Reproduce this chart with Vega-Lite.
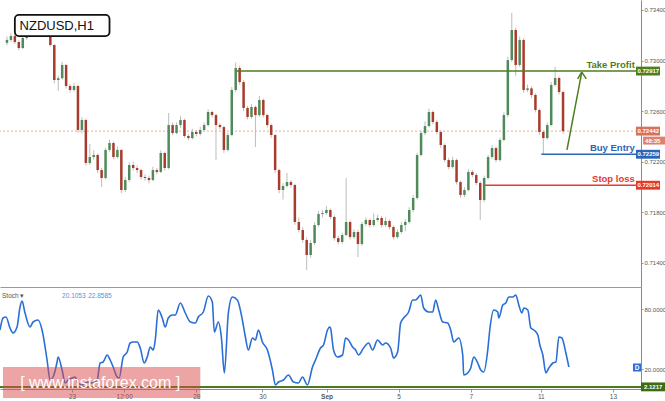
{
"$schema": "https://vega.github.io/schema/vega-lite/v6.json",
"padding": {"left": -4, "top": 0, "right": 0, "bottom": 0},
"background": "white",
"spacing": 0,
"config": {"view": {"stroke": null}, "font": "Liberation Sans", "axis": {"labelFont": "Liberation Sans", "labelFontSize": 6, "labelColor": "#555555", "domainColor": "#9a9a9a", "tickColor": "#9a9a9a", "grid": false, "labelOverlap": false}},
"resolve": {"scale": {"x": "independent", "y": "independent"}},
"datasets": {
"candles": [
{"t":0,"o":0.7314,"h":0.7319,"l":0.7312,"c":0.73163},
{"t":1,"o":0.73163,"h":0.73215,"l":0.7315,"c":0.73194},
{"t":2,"o":0.73194,"h":0.7321,"l":0.7313,"c":0.73147},
{"t":3,"o":0.73147,"h":0.7316,"l":0.7308,"c":0.73099},
{"t":4,"o":0.73099,"h":0.73195,"l":0.7309,"c":0.73178},
{"t":5,"o":0.73178,"h":0.7324,"l":0.73165,"c":0.73218},
{"t":6,"o":0.73218,"h":0.73265,"l":0.732,"c":0.73242},
{"t":7,"o":0.73242,"h":0.73285,"l":0.7323,"c":0.73258},
{"t":8,"o":0.73258,"h":0.7327,"l":0.7321,"c":0.73226},
{"t":9,"o":0.73226,"h":0.7326,"l":0.73215,"c":0.73242},
{"t":10,"o":0.73242,"h":0.73255,"l":0.732,"c":0.73218},
{"t":11,"o":0.73218,"h":0.7323,"l":0.7311,"c":0.73123},
{"t":12,"o":0.73123,"h":0.7313,"l":0.7282,"c":0.72846},
{"t":13,"o":0.72846,"h":0.7288,"l":0.7276,"c":0.7286},
{"t":14,"o":0.7286,"h":0.7299,"l":0.7285,"c":0.72965},
{"t":15,"o":0.72965,"h":0.72975,"l":0.7278,"c":0.72799},
{"t":16,"o":0.72799,"h":0.72815,"l":0.72745,"c":0.72767},
{"t":17,"o":0.72767,"h":0.72825,"l":0.72755,"c":0.72799},
{"t":18,"o":0.72799,"h":0.7281,"l":0.7243,"c":0.72451},
{"t":19,"o":0.72451,"h":0.7255,"l":0.7242,"c":0.7253},
{"t":20,"o":0.7253,"h":0.7254,"l":0.7217,"c":0.7219},
{"t":21,"o":0.7219,"h":0.7234,"l":0.72175,"c":0.72237},
{"t":22,"o":0.72237,"h":0.7229,"l":0.72215,"c":0.72253},
{"t":23,"o":0.72253,"h":0.72265,"l":0.7211,"c":0.72134},
{"t":24,"o":0.72134,"h":0.7215,"l":0.72,"c":0.72071},
{"t":25,"o":0.72071,"h":0.7231,"l":0.7206,"c":0.72293},
{"t":26,"o":0.72293,"h":0.72375,"l":0.7228,"c":0.72348},
{"t":27,"o":0.72348,"h":0.7236,"l":0.7222,"c":0.72237},
{"t":28,"o":0.72237,"h":0.7232,"l":0.72225,"c":0.72293},
{"t":29,"o":0.72293,"h":0.723,"l":0.7195,"c":0.71976},
{"t":30,"o":0.71976,"h":0.7208,"l":0.7196,"c":0.72055},
{"t":31,"o":0.72055,"h":0.72195,"l":0.7204,"c":0.72174},
{"t":32,"o":0.72174,"h":0.722,"l":0.7213,"c":0.7215},
{"t":33,"o":0.7215,"h":0.7217,"l":0.7211,"c":0.72134},
{"t":34,"o":0.72134,"h":0.72145,"l":0.7206,"c":0.72079},
{"t":35,"o":0.72079,"h":0.721,"l":0.7205,"c":0.72071},
{"t":36,"o":0.72071,"h":0.7209,"l":0.7203,"c":0.72055},
{"t":37,"o":0.72055,"h":0.7216,"l":0.72045,"c":0.72134},
{"t":38,"o":0.72134,"h":0.7215,"l":0.721,"c":0.72119},
{"t":39,"o":0.72119,"h":0.7229,"l":0.7211,"c":0.72269},
{"t":40,"o":0.72269,"h":0.7228,"l":0.7213,"c":0.7215},
{"t":41,"o":0.7215,"h":0.72585,"l":0.7214,"c":0.7249},
{"t":42,"o":0.7249,"h":0.7251,"l":0.7241,"c":0.72427},
{"t":43,"o":0.72427,"h":0.7251,"l":0.72415,"c":0.7249},
{"t":44,"o":0.7249,"h":0.7256,"l":0.7247,"c":0.7253},
{"t":45,"o":0.7253,"h":0.7254,"l":0.7239,"c":0.72403},
{"t":46,"o":0.72403,"h":0.7242,"l":0.7237,"c":0.72387},
{"t":47,"o":0.72387,"h":0.7246,"l":0.72375,"c":0.72435},
{"t":48,"o":0.72435,"h":0.7245,"l":0.724,"c":0.72419},
{"t":49,"o":0.72419,"h":0.72475,"l":0.72405,"c":0.72451},
{"t":50,"o":0.72451,"h":0.7251,"l":0.7244,"c":0.7249},
{"t":51,"o":0.7249,"h":0.72615,"l":0.7248,"c":0.72593},
{"t":52,"o":0.72593,"h":0.72605,"l":0.7255,"c":0.72569},
{"t":53,"o":0.72569,"h":0.7258,"l":0.72213,"c":0.7249},
{"t":54,"o":0.7249,"h":0.72505,"l":0.72455,"c":0.72474},
{"t":55,"o":0.72474,"h":0.72485,"l":0.7227,"c":0.72293},
{"t":56,"o":0.72293,"h":0.7243,"l":0.7228,"c":0.72411},
{"t":57,"o":0.72411,"h":0.7279,"l":0.724,"c":0.72767},
{"t":58,"o":0.72767,"h":0.72985,"l":0.7275,"c":0.72941},
{"t":59,"o":0.72941,"h":0.7296,"l":0.7281,"c":0.7283},
{"t":60,"o":0.7283,"h":0.72845,"l":0.726,"c":0.72625},
{"t":61,"o":0.72625,"h":0.7264,"l":0.72535,"c":0.72554},
{"t":62,"o":0.72554,"h":0.72655,"l":0.7254,"c":0.72633},
{"t":63,"o":0.72633,"h":0.72645,"l":0.72316,"c":0.72569},
{"t":64,"o":0.72569,"h":0.7272,"l":0.72555,"c":0.72688},
{"t":65,"o":0.72688,"h":0.727,"l":0.7255,"c":0.72569},
{"t":66,"o":0.72569,"h":0.7258,"l":0.7247,"c":0.7249},
{"t":67,"o":0.7249,"h":0.725,"l":0.7239,"c":0.72411},
{"t":68,"o":0.72411,"h":0.7242,"l":0.7211,"c":0.72134},
{"t":69,"o":0.72134,"h":0.72145,"l":0.7195,"c":0.71976},
{"t":70,"o":0.71976,"h":0.7203,"l":0.719,"c":0.72008},
{"t":71,"o":0.72008,"h":0.7211,"l":0.71995,"c":0.72039},
{"t":72,"o":0.72039,"h":0.72055,"l":0.71995,"c":0.72016},
{"t":73,"o":0.72016,"h":0.72025,"l":0.717,"c":0.71723},
{"t":74,"o":0.71723,"h":0.7176,"l":0.7164,"c":0.7166},
{"t":75,"o":0.7166,"h":0.7168,"l":0.7156,"c":0.71581},
{"t":76,"o":0.71581,"h":0.716,"l":0.71343,"c":0.71462},
{"t":77,"o":0.71462,"h":0.7158,"l":0.7144,"c":0.71557},
{"t":78,"o":0.71557,"h":0.7172,"l":0.7154,"c":0.71699},
{"t":79,"o":0.71699,"h":0.7181,"l":0.71685,"c":0.71786},
{"t":80,"o":0.71786,"h":0.7182,"l":0.7176,"c":0.71794},
{"t":81,"o":0.71794,"h":0.7185,"l":0.7178,"c":0.71818},
{"t":82,"o":0.71818,"h":0.7183,"l":0.71745,"c":0.71763},
{"t":83,"o":0.71763,"h":0.71775,"l":0.71575,"c":0.71596},
{"t":84,"o":0.71596,"h":0.71615,"l":0.71545,"c":0.71565},
{"t":85,"o":0.71565,"h":0.7164,"l":0.7155,"c":0.7162},
{"t":86,"o":0.7162,"h":0.72071,"l":0.7161,"c":0.71723},
{"t":87,"o":0.71723,"h":0.71735,"l":0.71585,"c":0.71604},
{"t":88,"o":0.71604,"h":0.71665,"l":0.7159,"c":0.71644},
{"t":89,"o":0.71644,"h":0.7166,"l":0.71446,"c":0.71549},
{"t":90,"o":0.71549,"h":0.71725,"l":0.71535,"c":0.71707},
{"t":91,"o":0.71707,"h":0.7176,"l":0.7169,"c":0.71739},
{"t":92,"o":0.71739,"h":0.7175,"l":0.7168,"c":0.71699},
{"t":93,"o":0.71699,"h":0.7179,"l":0.71685,"c":0.71739},
{"t":94,"o":0.71739,"h":0.7178,"l":0.71725,"c":0.71755},
{"t":95,"o":0.71755,"h":0.7177,"l":0.7168,"c":0.71699},
{"t":96,"o":0.71699,"h":0.7176,"l":0.71685,"c":0.71731},
{"t":97,"o":0.71731,"h":0.71745,"l":0.71665,"c":0.71683},
{"t":98,"o":0.71683,"h":0.71695,"l":0.71585,"c":0.71604},
{"t":99,"o":0.71604,"h":0.71665,"l":0.7159,"c":0.71644},
{"t":100,"o":0.71644,"h":0.7172,"l":0.7163,"c":0.71699},
{"t":101,"o":0.71699,"h":0.71745,"l":0.7165,"c":0.71723},
{"t":102,"o":0.71723,"h":0.7184,"l":0.7171,"c":0.71818},
{"t":103,"o":0.71818,"h":0.71935,"l":0.718,"c":0.71913},
{"t":104,"o":0.71913,"h":0.7227,"l":0.719,"c":0.72253},
{"t":105,"o":0.72253,"h":0.72445,"l":0.7224,"c":0.72427},
{"t":106,"o":0.72427,"h":0.7252,"l":0.7241,"c":0.72482},
{"t":107,"o":0.72482,"h":0.7262,"l":0.7247,"c":0.72593},
{"t":108,"o":0.72593,"h":0.72605,"l":0.72495,"c":0.72514},
{"t":109,"o":0.72514,"h":0.7253,"l":0.72415,"c":0.72435},
{"t":110,"o":0.72435,"h":0.7245,"l":0.7231,"c":0.72332},
{"t":111,"o":0.72332,"h":0.72345,"l":0.72195,"c":0.72213},
{"t":112,"o":0.72213,"h":0.7223,"l":0.7214,"c":0.72158},
{"t":113,"o":0.72158,"h":0.7224,"l":0.72145,"c":0.72213},
{"t":114,"o":0.72213,"h":0.72225,"l":0.7202,"c":0.72039},
{"t":115,"o":0.72039,"h":0.7205,"l":0.71915,"c":0.71937},
{"t":116,"o":0.71937,"h":0.72,"l":0.7192,"c":0.71976},
{"t":117,"o":0.71976,"h":0.7214,"l":0.71965,"c":0.72119},
{"t":118,"o":0.72119,"h":0.72135,"l":0.72075,"c":0.72095},
{"t":119,"o":0.72095,"h":0.7211,"l":0.72015,"c":0.72032},
{"t":120,"o":0.72032,"h":0.72045,"l":0.71739,"c":0.71897},
{"t":121,"o":0.71897,"h":0.7209,"l":0.7188,"c":0.72071},
{"t":122,"o":0.72071,"h":0.72255,"l":0.7206,"c":0.72237},
{"t":123,"o":0.72237,"h":0.7233,"l":0.7222,"c":0.72308},
{"t":124,"o":0.72308,"h":0.7232,"l":0.72195,"c":0.72213},
{"t":125,"o":0.72213,"h":0.7239,"l":0.722,"c":0.72372},
{"t":126,"o":0.72372,"h":0.7259,"l":0.7236,"c":0.72569},
{"t":127,"o":0.72569,"h":0.7303,"l":0.72555,"c":0.73004},
{"t":128,"o":0.73004,"h":0.73376,"l":0.7299,"c":0.73242},
{"t":129,"o":0.73242,"h":0.7326,"l":0.7288,"c":0.72965},
{"t":130,"o":0.72965,"h":0.7319,"l":0.7295,"c":0.73163},
{"t":131,"o":0.73163,"h":0.73175,"l":0.72745,"c":0.72767},
{"t":132,"o":0.72767,"h":0.7281,"l":0.7275,"c":0.7278},
{"t":133,"o":0.7278,"h":0.72795,"l":0.72705,"c":0.72728},
{"t":134,"o":0.72728,"h":0.7274,"l":0.7259,"c":0.72609},
{"t":135,"o":0.72609,"h":0.7262,"l":0.7241,"c":0.72435},
{"t":136,"o":0.72435,"h":0.7245,"l":0.72259,"c":0.72387},
{"t":137,"o":0.72387,"h":0.7251,"l":0.72375,"c":0.7249},
{"t":138,"o":0.7249,"h":0.7283,"l":0.7248,"c":0.72807},
{"t":139,"o":0.72807,"h":0.72949,"l":0.72795,"c":0.72862},
{"t":140,"o":0.72862,"h":0.72875,"l":0.7273,"c":0.72751},
{"t":141,"o":0.72751,"h":0.7276,"l":0.7242,"c":0.72442}
],
"stoch": [
{"t":-0.5,"k":59},{"t":0.25,"k":71},{"t":1,"k":72},{"t":2,"k":61},{"t":2.75,"k":56},{"t":3.75,"k":62},{"t":4.5,"k":82},{"t":5,"k":88},{"t":5.75,"k":76},{"t":7,"k":62},{"t":7.75,"k":67},{"t":9,"k":69},{"t":10,"k":59},{"t":11.25,"k":29},{"t":12,"k":9},{"t":12.75,"k":12},{"t":13.75,"k":27},{"t":14,"k":32},{"t":15,"k":19},{"t":15.75,"k":6},{"t":16.5,"k":9},{"t":17.5,"k":11},{"t":18.25,"k":12},{"t":19,"k":6},{"t":20,"k":4},{"t":21.25,"k":7},{"t":22.5,"k":6},{"t":23.75,"k":9},{"t":24.5,"k":26},{"t":25.25,"k":27},{"t":26.25,"k":34},{"t":27,"k":29},{"t":27.75,"k":22},{"t":28.75,"k":12},{"t":29.25,"k":11},{"t":30.25,"k":32},{"t":31.25,"k":37},{"t":32,"k":46},{"t":32.75,"k":47},{"t":33.75,"k":47},{"t":34.5,"k":41},{"t":35.5,"k":26},{"t":36.25,"k":32},{"t":37,"k":42},{"t":37.75,"k":39},{"t":38.25,"k":49},{"t":39,"k":79},{"t":40,"k":71},{"t":40.75,"k":62},{"t":41.5,"k":71},{"t":42.5,"k":74},{"t":43.25,"k":74},{"t":44.5,"k":86},{"t":45.75,"k":76},{"t":47,"k":67},{"t":48.25,"k":66},{"t":49,"k":72},{"t":50.25,"k":77},{"t":51.5,"k":93},{"t":52.5,"k":87},{"t":53,"k":57},{"t":54,"k":67},{"t":54.75,"k":52},{"t":55.5,"k":16},{"t":56.5,"k":76},{"t":57.5,"k":92},{"t":58.75,"k":89},{"t":60,"k":69},{"t":60.75,"k":52},{"t":61.5,"k":39},{"t":62.5,"k":51},{"t":63.25,"k":49},{"t":64,"k":59},{"t":65,"k":47},{"t":66.25,"k":39},{"t":67.5,"k":19},{"t":68.25,"k":4},{"t":69,"k":7},{"t":70.25,"k":9},{"t":71.5,"k":14},{"t":72.75,"k":7},{"t":74,"k":6},{"t":75,"k":12},{"t":76.25,"k":4},{"t":77.5,"k":22},{"t":78.25,"k":29},{"t":79.5,"k":41},{"t":80.25,"k":44},{"t":81.25,"k":59},{"t":81.75,"k":62},{"t":82,"k":61},{"t":82.75,"k":39},{"t":83.75,"k":32},{"t":85,"k":34},{"t":85.75,"k":51},{"t":86.5,"k":49},{"t":87.5,"k":42},{"t":88.25,"k":39},{"t":89,"k":34},{"t":90.25,"k":41},{"t":91.5,"k":46},{"t":92.5,"k":39},{"t":93.75,"k":49},{"t":95,"k":44},{"t":95.75,"k":46},{"t":97,"k":41},{"t":97.75,"k":31},{"t":98.75,"k":37},{"t":99.5,"k":66},{"t":100.25,"k":71},{"t":101.5,"k":77},{"t":102.5,"k":89},{"t":103.25,"k":89},{"t":104.5,"k":94},{"t":105.25,"k":81},{"t":106.5,"k":77},{"t":107.5,"k":77},{"t":108.25,"k":89},{"t":109,"k":79},{"t":110,"k":67},{"t":111.25,"k":66},{"t":112,"k":59},{"t":112.75,"k":47},{"t":114,"k":51},{"t":115,"k":34},{"t":115.25,"k":14},{"t":116.25,"k":16},{"t":117,"k":21},{"t":117.75,"k":32},{"t":118.75,"k":26},{"t":119.5,"k":19},{"t":120.25,"k":17},{"t":121.25,"k":39},{"t":121.75,"k":59},{"t":122.75,"k":79},{"t":123.75,"k":77},{"t":124,"k":71},{"t":125,"k":84},{"t":125.75,"k":86},{"t":126.5,"k":92},{"t":127.5,"k":92},{"t":128.25,"k":94},{"t":129,"k":84},{"t":129.75,"k":76},{"t":130.25,"k":81},{"t":131.25,"k":79},{"t":132,"k":61},{"t":132.75,"k":59},{"t":133.75,"k":54},{"t":134.25,"k":44},{"t":135,"k":34},{"t":135.75,"k":16},{"t":136.5,"k":21},{"t":137.5,"k":26},{"t":138.25,"k":27},{"t":139,"k":52},{"t":139.75,"k":51},{"t":140.75,"k":36},{"t":141.5,"k":22}
],
"levels": [
{"name":"Take Profit","p":0.72917,"from":58.25},
{"name":"Buy Entry","p":0.72259,"from":135.5},
{"name":"Stop loss","p":0.72014,"from":121.25}
],
"current": [{"p":0.72442}],
"timer": [{"p":0.72367,"txt":"48:35"}],
"stochlevel": [{"k":2.1217}]
},
"vconcat": [
{
"width": 641, "height": 287,
"layer": [
{"data": {"name": "candles"}, "mark": {"type": "rule", "color": "#bcbcbc", "strokeWidth": 1},
 "encoding": {"x": {"field": "t", "type": "quantitative", "title": null, "scale": {"domain": [-0.5, 159.5], "nice": false, "zero": false},
   "axis": {"orient": "bottom", "title": null, "labels": false, "ticks": false, "domain": true, "domainColor": "#9a9a9a"}},
  "y": {"field": "l", "type": "quantitative", "title": null, "scale": {"domain": [0.71209, 0.73479], "nice": false, "zero": false},
   "axis": {"orient": "right", "title": null, "values": [0.714, 0.716, 0.718, 0.72, 0.722, 0.724, 0.726, 0.728, 0.73, 0.732, 0.734], "format": ".5f", "tickSize": 2, "labelPadding": 1, "labelOverlap": false, "labelBound": false, "domainColor": "#8a8a8a"}},
  "y2": {"field": "h"}}},
{"data": {"name": "current"}, "mark": {"type": "rule", "color": "#f2a696", "strokeDash": [2, 2], "strokeWidth": 1},
 "encoding": {"y": {"field": "p", "type": "quantitative", "title": null}}},
{"data": {"name": "candles"}, "mark": {"type": "bar", "size": 2.5},
 "encoding": {"x": {"field": "t", "type": "quantitative", "title": null}, "y": {"field": "o", "type": "quantitative", "title": null}, "y2": {"field": "c"},
  "color": {"condition": {"test": "datum.c >= datum.o", "value": "#4f8a5a"}, "value": "#a83b2c"}}},
{"data": {"name": "levels"}, "mark": {"type": "rule", "strokeWidth": 1.6},
 "encoding": {"x": {"field": "from", "type": "quantitative", "title": null}, "x2": {"datum": 159.5}, "y": {"field": "p", "type": "quantitative", "title": null},
  "color": {"field": "name", "type": "nominal", "legend": null, "scale": {"domain": ["Take Profit", "Buy Entry", "Stop loss"], "range": ["#4e7d1f", "#2b65b8", "#e5392e"]}}}},
{"data": {"name": "levels"}, "mark": {"type": "text", "align": "right", "baseline": "alphabetic", "dy": -3, "fontWeight": "bold", "fontSize": 9.5, "font": "Liberation Sans"},
 "encoding": {"x": {"datum": 159.2, "title": null}, "y": {"field": "p", "type": "quantitative", "title": null}, "text": {"field": "name"},
  "color": {"field": "name", "type": "nominal", "legend": null}}},
{"data": {"name": "levels"}, "mark": {"type": "point", "shape": "M0,-0.37L2,-0.37L2,0.37L0,0.37Z", "size": 576, "filled": true, "opacity": 1},
 "encoding": {"x": {"datum": 159.5, "title": null}, "y": {"field": "p", "type": "quantitative", "title": null},
  "color": {"field": "name", "type": "nominal", "legend": null}}},
{"data": {"name": "levels"}, "mark": {"type": "text", "align": "left", "baseline": "middle", "dx": 1.5, "fontSize": 6, "fontWeight": "bold", "color": "white"},
 "encoding": {"x": {"datum": 159.5, "title": null}, "y": {"field": "p", "type": "quantitative", "title": null}, "text": {"field": "p", "type": "quantitative", "format": ".5f"}}},
{"data": {"name": "current"}, "mark": {"type": "point", "shape": "M0,-0.37L2,-0.37L2,0.37L0,0.37Z", "size": 576, "filled": true, "opacity": 1, "color": "#d8715c"},
 "encoding": {"x": {"datum": 159.5, "title": null}, "y": {"field": "p", "type": "quantitative", "title": null}}},
{"data": {"name": "current"}, "mark": {"type": "text", "align": "left", "baseline": "middle", "dx": 1.5, "fontSize": 6, "fontWeight": "bold", "color": "white"},
 "encoding": {"x": {"datum": 159.5, "title": null}, "y": {"field": "p", "type": "quantitative", "title": null}, "text": {"field": "p", "type": "quantitative", "format": ".5f"}}},
{"data": {"name": "timer"}, "mark": {"type": "point", "shape": "M0,-0.33L2,-0.33L2,0.33L0,0.33Z", "size": 576, "filled": true, "opacity": 1, "color": "#dc8270"},
 "encoding": {"x": {"datum": 161.3, "title": null}, "y": {"field": "p", "type": "quantitative", "title": null}}},
{"data": {"name": "timer"}, "mark": {"type": "text", "align": "left", "baseline": "middle", "dx": 2, "fontSize": 6, "fontWeight": "bold", "color": "white"},
 "encoding": {"x": {"datum": 161.3, "title": null}, "y": {"field": "p", "type": "quantitative", "title": null}, "text": {"field": "txt"}}},
{"data": {"values": [{}]}, "mark": {"type": "rule", "color": "#4e7d1f", "strokeWidth": 1.5},
 "encoding": {"x": {"datum": 142, "title": null}, "y": {"datum": 0.72293, "title": null}, "x2": {"datum": 145.75}, "y2": {"datum": 0.72909}}},
{"data": {"values": [{}]}, "mark": {"type": "rule", "color": "#4e7d1f", "strokeWidth": 1.5},
 "encoding": {"x": {"datum": 145.75, "title": null}, "y": {"datum": 0.72909, "title": null}, "x2": {"datum": 144.7}, "y2": {"datum": 0.72855}}},
{"data": {"values": [{}]}, "mark": {"type": "rule", "color": "#4e7d1f", "strokeWidth": 1.5},
 "encoding": {"x": {"datum": 145.75, "title": null}, "y": {"datum": 0.72909, "title": null}, "x2": {"datum": 146.9}, "y2": {"datum": 0.72855}}},
{"data": {"values": [{}]}, "mark": {"type": "rect", "fill": "white", "stroke": "#111111", "strokeWidth": 1.8, "cornerRadius": 4},
 "encoding": {"x": {"datum": 2.0, "title": null}, "x2": {"datum": 26.0}, "y": {"datum": 0.73361, "title": null}, "y2": {"datum": 0.73194}}},
{"data": {"values": [{}]}, "mark": {"type": "text", "align": "left", "baseline": "middle", "fontSize": 13, "color": "#111111", "font": "Liberation Sans"},
 "encoding": {"x": {"datum": 3.2, "title": null}, "y": {"datum": 0.73276, "title": null}, "text": {"value": "NZDUSD,H1"}}}
]
},
{
"width": 641, "height": 102,
"layer": [
{"data": {"name": "stoch"}, "mark": {"type": "line", "color": "#2a6ed6", "strokeWidth": 1.6, "interpolate": "monotone"},
 "encoding": {"x": {"field": "t", "type": "quantitative", "title": null, "scale": {"domain": [-0.5, 159.5], "nice": false, "zero": false},
   "axis": {"orient": "bottom", "title": null, "values": [17.5, 30.5, 48.5, 65, 81, 99, 117, 134.5, 152.5],
    "labelExpr": "datum.value < 20 ? '23' : datum.value < 35 ? '12:00' : datum.value < 50 ? '28' : datum.value < 70 ? '30' : datum.value < 90 ? 'Sep' : datum.value < 110 ? '5' : datum.value < 125 ? '7' : datum.value < 140 ? '11' : '13'",
    "labelFontWeight": {"condition": {"test": "datum.value > 75 && datum.value < 90", "value": "bold"}, "value": "normal"},
    "tickSize": 3, "labelPadding": 1, "labelFontSize": 6.5, "labelOverlap": false, "domainColor": "#8a8a8a"}},
  "y": {"field": "k", "type": "quantitative", "title": null, "scale": {"domain": [0, 102], "nice": false, "zero": false},
   "axis": {"orient": "right", "title": null, "values": [20, 40, 60, 80], "format": ".4f", "tickSize": 2, "labelPadding": 1, "labelOverlap": false, "labelBound": false, "domainColor": "#8a8a8a"}}}},
{"data": {"name": "stochlevel"}, "mark": {"type": "rule", "color": "#4a7a1e", "strokeWidth": 2},
 "encoding": {"y": {"field": "k", "type": "quantitative", "title": null}}},
{"data": {"values": [{}]}, "mark": {"type": "rect", "color": "#d94a4a", "opacity": 0.5},
 "encoding": {"x": {"datum": 0.25, "title": null}, "x2": {"datum": 49.5}, "y": {"datum": 22, "title": null}, "y2": {"datum": -9}}},
{"data": {"values": [{}]}, "mark": {"type": "text", "align": "center", "baseline": "middle", "fontSize": 16, "color": "white", "font": "Liberation Sans"},
 "encoding": {"x": {"datum": 24.5, "title": null}, "y": {"datum": 6, "title": null}, "text": {"value": "[  www.instaforex.com  ]"}}},
{"data": {"values": [{}]}, "mark": {"type": "text", "align": "left", "baseline": "middle", "fontSize": 6.5, "color": "#555555"},
 "encoding": {"x": {"datum": 0, "title": null}, "y": {"datum": 93, "title": null}, "text": {"value": "Stoch ▾"}}},
{"data": {"values": [{}]}, "mark": {"type": "text", "align": "left", "baseline": "middle", "fontSize": 6.5, "color": "#4a94e8"},
 "encoding": {"x": {"datum": 15, "title": null}, "y": {"datum": 93, "title": null}, "text": {"value": "20.1053"}}},
{"data": {"values": [{}]}, "mark": {"type": "text", "align": "left", "baseline": "middle", "fontSize": 6.5, "color": "#4a94e8"},
 "encoding": {"x": {"datum": 21.5, "title": null}, "y": {"datum": 93, "title": null}, "text": {"value": "22.8585"}}},
{"data": {"values": [{}]}, "mark": {"type": "point", "shape": "square", "size": 64, "filled": true, "opacity": 1, "color": "#2a6ed6"},
 "encoding": {"x": {"datum": 158.5, "title": null}, "y": {"datum": 21.5, "title": null}}},
{"data": {"values": [{}]}, "mark": {"type": "text", "align": "center", "baseline": "middle", "fontSize": 6.5, "color": "white", "fontWeight": "bold"},
 "encoding": {"x": {"datum": 158.5, "title": null}, "y": {"datum": 21.5, "title": null}, "text": {"value": "D"}}},
{"data": {"name": "stochlevel"}, "mark": {"type": "point", "shape": "M0,-0.37L2,-0.37L2,0.37L0,0.37Z", "size": 576, "filled": true, "opacity": 1, "color": "#3f6b14"},
 "encoding": {"x": {"datum": 159.5, "title": null}, "y": {"field": "k", "type": "quantitative", "title": null}}},
{"data": {"name": "stochlevel"}, "mark": {"type": "text", "align": "left", "baseline": "middle", "dx": 3, "fontSize": 6, "fontWeight": "bold", "color": "white"},
 "encoding": {"x": {"datum": 159.5, "title": null}, "y": {"field": "k", "type": "quantitative", "title": null}, "text": {"field": "k", "type": "quantitative", "format": ".4f"}}}
]
}
]
}
